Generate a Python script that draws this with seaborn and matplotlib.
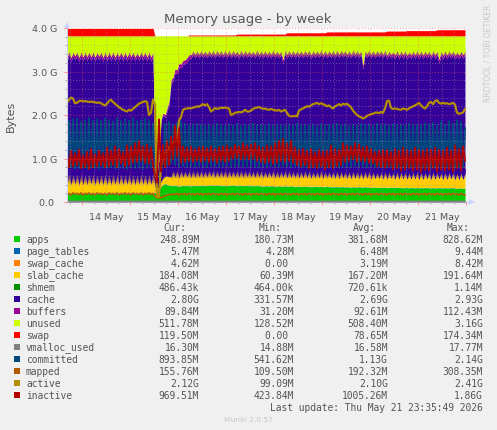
#!/usr/bin/env python
"""Munin style weekly memory usage graph."""

import matplotlib
matplotlib.use("Agg")
import matplotlib.dates as mdates
import matplotlib.pyplot as plt
import numpy as np
import pandas as pd
import seaborn as sns
from matplotlib.colors import to_rgb
from matplotlib.patches import Rectangle
from matplotlib.ticker import FuncFormatter, MultipleLocator

W, H = 497, 431
TEXT = "#555555"
FAINT = "#c8c8c8"

# all series are in hundredths of a GiB, one sample per hour
apps = [
    20,21,20,20,21,20,19,20,20,21, 20,20,21,20,20,20,21,20,19,20,
    20,21,20,21,20,20,21,20,20,21, 20,20,21,20,20,19,20,20,21,20,
    20,21,20,20,22,24,28,36,40,42, 40,38,38,37,38,37,36,37,38,37,
    38,37,37,38,37,38,37,38,38,37, 38,38,39,38,38,39,38,38,37,38,
    37,38,38,39,38,37,38,38,37,38, 38,37,38,37,37,38,37,37,36,37,
    37,36,37,37,36,36,37,36,36,37, 36,36,37,36,35,36,36,35,36,36,
    35,36,35,35,36,35,35,36,35,35, 36,35,35,34,35,35,34,35,35,34,
    35,34,34,35,34,34,35,34,34,35, 34,34,33,34,34,33,34,33,33,34,
    33,33,34,33,33,34,33,33,32,33, 33,32,33,33,32,33,32,33,32,33,
    33,32,32,33,32,32,33,32,32,33, 32,32,33,32,32,31,32,32,31,32,
]
slab_cache = [
    18,45,18,44,19,46,18,45,18,44, 18,46,19,45,18,44,18,45,19,46,
    18,44,18,45,19,45,18,46,18,44, 19,45,18,44,18,45,19,46,18,45,
    18,44,19,45,12,8,6,10,14,16, 18,20,18,35,18,35,18,35,18,35,
    18,35,18,36,18,35,19,34,18,35, 18,36,19,35,18,34,18,35,19,36,
    18,35,18,34,19,35,18,36,18,35, 19,34,18,35,18,36,19,35,18,34,
    18,35,19,36,18,35,18,34,19,35, 18,36,18,35,19,34,18,35,18,36,
    19,35,18,34,18,35,19,36,18,35, 18,34,19,35,18,36,18,35,19,34,
    18,35,18,36,19,35,18,34,18,35, 19,36,18,35,18,34,19,35,18,36,
    18,35,19,34,18,35,18,36,19,35, 18,34,18,35,19,36,18,35,18,34,
    19,35,18,36,18,35,19,34,18,35, 18,36,19,35,18,34,18,35,19,35,
]
cache = [
    285,271,284,272,286,270,285,271,285,272, 286,270,284,271,285,272,286,271,284,270,
    285,272,286,271,284,271,286,270,285,272, 284,271,286,272,285,271,285,270,286,271,
    285,272,284,271,33,33,60,140,145,136, 150,165,215,205,240,222,255,235,260,245,
    266,257,274,265,275,266,274,267,275,266, 274,266,273,267,274,268,275,267,274,266,
    275,268,274,267,274,266,273,268,275,267, 274,267,275,266,275,268,274,267,276,268,
    275,267,274,268,276,267,275,268,262,269, 276,268,275,269,276,268,277,269,276,268,
    277,269,276,270,277,269,277,270,277,270, 276,270,277,271,277,270,278,270,278,271,
    277,270,278,271,278,270,278,271,252,270, 278,271,279,271,278,272,279,271,279,272,
    277,270,277,269,278,270,277,270,278,271, 277,270,278,271,278,270,279,271,278,271,
    278,270,278,271,278,271,266,271,278,271, 278,271,278,271,278,271,278,271,279,271,
]
buffers = [
    9,9,9,9,9,9,9,9,9,9, 9,9,9,9,9,9,9,9,9,9,
    9,9,9,9,9,9,9,9,9,9, 9,9,9,9,9,9,9,9,9,9,
    9,9,9,9,3,3,3,4,5,6, 7,8,9,9,9,9,9,9,9,9,
    9,9,9,9,9,9,9,9,9,9, 9,9,9,9,9,9,9,9,9,9,
    9,9,9,9,9,9,9,9,9,9, 9,9,9,9,9,9,9,9,9,9,
    9,9,9,9,9,9,9,9,9,9, 9,9,9,9,9,9,9,9,9,9,
    9,9,9,9,9,9,9,9,9,9, 9,9,9,9,9,9,9,9,9,9,
    9,9,9,9,9,9,9,9,9,9, 9,9,9,9,9,9,9,9,9,9,
    9,9,9,9,9,9,9,9,9,9, 9,9,9,9,9,9,9,9,9,9,
    9,9,9,9,9,9,9,9,9,9, 9,9,9,9,9,9,9,9,9,9,
]
unused = [
    49,35,50,36,46,36,50,36,49,35, 48,36,48,36,49,36,47,36,50,36,
    49,35,48,35,49,36,47,36,49,35, 49,36,47,36,49,37,48,36,47,36,
    49,35,49,36,311,313,284,191,177,181, 166,150,101,95,76,78,63,65,56,55,
    50,43,43,33,42,33,42,33,41,34, 42,32,41,32,42,31,41,32,42,32,
    42,31,42,32,41,34,43,30,42,32, 41,34,41,34,42,30,42,33,42,33,
    42,34,42,31,42,34,42,34,55,31, 42,32,42,32,42,34,41,33,42,32,
    41,32,43,33,41,33,41,30,42,32, 42,33,41,32,42,31,42,32,40,33,
    42,33,42,30,41,33,41,33,68,32, 41,31,42,32,42,33,40,33,42,30,
    44,34,42,36,43,33,44,33,43,33, 44,36,43,33,43,33,43,33,44,34,
    42,35,44,32,44,34,54,35,44,33, 44,33,42,34,44,36,44,34,43,34,
]
swap = [
    17,17,17,17,17,17,17,17,17,17, 17,17,17,17,17,17,17,17,17,17,
    17,17,17,17,17,17,17,17,17,17, 17,17,17,17,17,17,17,17,17,17,
    17,17,17,17,0,0,0,0,0,0, 0,0,0,0,0,0,0,0,0,0,
    0,2,2,2,2,2,2,2,2,2, 2,2,2,2,2,2,2,2,2,2,
    2,2,2,2,2,4,4,4,4,4, 4,4,4,4,4,4,4,4,4,4,
    4,4,4,4,4,4,4,4,4,4, 7,7,7,7,7,7,7,7,7,7,
    7,7,7,7,7,7,7,7,7,7, 9,9,9,9,9,9,9,9,9,9,
    9,9,9,9,9,9,9,9,9,9, 9,9,9,9,9,9,9,9,9,9,
    11,11,11,11,11,11,11,11,11,11, 12,12,12,12,12,12,12,12,12,12,
    12,12,12,12,12,14,14,14,14,14, 14,14,14,14,14,14,14,14,14,14,
]
# thin series hardly change, so one reading per 20 samples
page_tables = [0.6, 0.6, 0.7, 0.6, 0.6, 0.6, 0.7, 0.6, 0.6, 0.5]
swap_cache = [0.3, 0.3, 0.2, 0.3, 0.3, 0.3, 0.2, 0.3, 0.3, 0.4]
shmem = [0.1, 0.1, 0.1, 0.1, 0.1, 0.1, 0.1, 0.1, 0.1, 0.1]
vmalloc_used = [1.6, 1.6, 1.7, 1.6, 1.7, 1.7, 1.6, 1.6, 1.7, 1.6]

committed = [
    78,186,80,190,76,192,78,185,79,188, 77,193,80,186,78,190,76,187,79,191,
    78,188,80,185,77,192,79,186,78,190, 76,187,80,193,78,186,79,189,77,191,
    78,188,80,180,70,55,60,75,85,180, 85,185,88,178,85,182,80,185,82,180,
    80,176,82,178,80,180,82,178,80,176, 80,178,81,176,82,180,80,177,81,175,
    82,178,80,176,81,179,82,175,80,178, 81,176,82,180,80,177,79,178,81,176,
    80,179,82,176,81,178,80,177,82,175, 81,178,80,176,82,180,81,177,80,178,
    79,176,81,178,82,175,80,179,81,176, 80,178,82,177,81,180,79,176,80,178,
    81,175,80,178,82,176,81,179,80,177, 79,178,81,176,80,180,82,177,81,178,
    80,176,81,179,82,177,80,178,79,176, 81,180,80,177,82,178,81,176,80,181,
    79,178,81,182,80,177,82,185,81,178, 80,186,82,180,79,188,81,184,80,170,
]
mapped = [
    17,20,16,21,18,20,17,21,16,20, 18,21,17,20,16,21,18,20,17,20,
    16,21,18,20,17,21,16,20,18,21, 17,20,16,21,18,20,17,21,16,20,
    18,21,17,20,12,10,9,10,12,14, 15,18,16,19,17,20,16,19,17,20,
    16,20,17,19,16,20,17,20,16,19, 17,20,16,20,17,19,16,20,17,20,
    16,19,17,20,16,20,17,19,16,20, 17,20,16,19,17,20,16,20,17,19,
    16,20,17,20,16,19,17,20,16,20, 17,19,16,20,17,20,16,19,17,20,
    16,20,17,19,16,20,17,20,16,19, 17,20,16,20,17,19,16,20,17,20,
    16,19,17,20,16,20,17,19,16,20, 17,20,16,19,17,20,16,20,17,19,
    16,20,17,20,16,19,17,20,16,20, 17,19,16,20,17,20,16,19,17,20,
    16,20,17,19,16,20,17,20,16,19, 17,20,16,20,17,19,16,20,17,16,
]
active = [
    228,235,240,238,227,228,232,233,231,232, 231,230,231,230,229,228,229,227,224,222,
    226,232,235,230,226,222,218,215,212,210, 208,212,210,214,218,222,226,228,230,232,
    230,200,205,235,225,12,12,85,100,112, 118,124,130,136,140,142,188,195,212,214,
    215,216,215,217,218,220,219,222,225,222, 225,218,208,212,216,214,215,217,216,217,
    216,215,200,202,205,206,207,206,208,212, 208,208,210,214,216,217,218,216,214,215,
    213,212,214,212,211,210,212,208,210,212, 205,198,197,197,198,197,210,213,215,218,
    220,219,222,225,226,228,225,227,225,223, 220,222,218,215,220,222,225,222,226,224,
    226,222,218,210,205,200,197,195,192,194, 198,200,202,203,205,206,204,207,205,215,
    232,233,216,214,215,214,213,212,215,214, 212,215,218,220,222,225,228,222,218,215,
    220,228,230,225,232,234,228,226,228,226, 227,225,226,228,224,205,203,204,206,214,
]
inactive = [
    105,80,118,82,112,85,120,78,108,80, 115,76,122,80,110,82,118,85,112,80,
    125,82,118,85,128,80,122,88,115,82, 130,85,128,90,135,92,140,95,128,90,
    132,88,125,85,60,45,190,70,130,80, 140,85,150,100,175,105,170,90,128,92,
    125,95,128,92,122,95,126,92,128,95, 124,92,128,95,122,90,126,95,128,92,
    130,95,125,100,132,102,128,98,135,100, 130,98,132,100,135,95,128,92,125,90,
    130,92,128,88,135,90,140,95,145,92, 135,95,140,90,125,85,120,82,122,85,
    118,78,122,80,115,78,120,82,116,75, 118,80,130,78,122,82,120,85,135,92,
    130,95,128,98,135,92,132,95,125,92, 128,90,122,88,115,82,118,80,120,78,
    120,82,115,75,122,78,118,72,125,75, 120,78,118,72,125,75,120,70,118,75,
    122,72,120,78,125,70,120,75,118,72, 125,75,118,70,130,78,122,72,128,95,
]

# legend table
names = ["apps", "page_tables", "swap_cache", "slab_cache", "shmem", "cache", "buffers",
         "unused", "swap", "vmalloc_used", "committed", "mapped", "active", "inactive"]
cur = ["248.89M", "5.47M", "4.62M", "184.08M", "486.43k", "2.80G", "89.84M",
       "511.78M", "119.50M", "16.30M", "893.85M", "155.76M", "2.12G", "969.51M"]
low = ["180.73M", "4.28M", "0.00 ", "60.39M", "464.00k", "331.57M", "31.20M",
       "128.52M", "0.00 ", "14.88M", "541.62M", "109.50M", "99.09M", "423.84M"]
avg = ["381.68M", "6.48M", "3.19M", "167.20M", "720.61k", "2.69G", "92.61M",
       "508.40M", "78.65M", "16.58M", "1.13G", "192.32M", "2.10G", "1005.26M"]
high = ["828.62M", "9.44M", "8.42M", "191.64M", "1.14M", "2.93G", "112.43M",
        "3.16G", "174.34M", "17.77M", "2.14G", "308.35M", "2.41G", "1.86G"]
colors = ["#00CC00", "#0066B3", "#FF8000", "#FFCC00", "#008F00", "#330099", "#990099",
          "#CCFF00", "#FF0000", "#808080", "#00487D", "#B35A00", "#B38F00", "#B30000"]
ytick_labels = ["0.0 ", "1.0 G", "2.0 G", "3.0 G", "4.0 G"]


def px_text(fig, x, y, s, **kw):
    kw.setdefault("color", TEXT)
    kw.setdefault("va", "center")
    fig.text(x / W, 1 - y / H, s, **kw)


def fade_band(ax, start, end, y0, y1, color, alpha0, alpha1):
    # the saw teeth blur from one colour into the next, a soft vertical wash gets that look
    rgba = np.zeros((64, 1, 4))
    rgba[..., :3] = to_rgb(color)
    rgba[:, 0, 3] = np.linspace(alpha0, alpha1, 64)
    extent = [mdates.date2num(pd.Timestamp(start)), mdates.date2num(pd.Timestamp(end)), y0, y1]
    ax.imshow(rgba, origin="lower", extent=extent, aspect="auto", interpolation="bilinear", zorder=1.5)


sns.set_theme(style="white", rc={"axes.facecolor": "white", "figure.facecolor": "#f0f0f0"})
fig = plt.figure(figsize=(W / 100, H / 100), dpi=100)
ax = fig.add_axes([67 / W, 1 - 203 / H, 399 / W, 174 / H])

times = pd.date_range("2026-05-13 16:30", periods=len(apps), freq="h")
stack = [apps, np.repeat(page_tables, 20), np.repeat(swap_cache, 20), slab_cache, np.repeat(shmem, 20),
         cache, buffers, unused, swap]
ax.stackplot(times, *[np.asarray(s, dtype=float) / 100 for s in stack], colors=colors[:9], lw=0)

fade_band(ax, "2026-05-13 16:30", "2026-05-22 00:00", 3.34, 3.54, "#CCFF00", 0.0, 0.9)
fade_band(ax, "2026-05-13 16:30", "2026-05-15 12:30", 0.40, 0.66, "#330099", 0.0, 0.95)
fade_band(ax, "2026-05-15 19:00", "2026-05-22 00:00", 0.54, 0.76, "#330099", 0.0, 0.95)

lines = [np.repeat(vmalloc_used, 20), committed, mapped, active, inactive]
widths = [1.0, 1.4, 1.2, 1.6, 1.4]
for values, color, lw in zip(lines, colors[9:], widths):
    sns.lineplot(x=times, y=np.asarray(values, dtype=float) / 100, color=color, lw=lw,
                 estimator=None, legend=False, ax=ax)

ax.set_xlim(pd.Timestamp("2026-05-13 16:30"), pd.Timestamp("2026-05-22 00:00"))
ax.set_ylim(0, 4.0)
ax.set_xlabel("")
ax.set_ylabel("")

ax.xaxis.set_major_locator(mdates.DayLocator())
ax.xaxis.set_major_formatter(FuncFormatter(lambda v, pos: ""))
ax.xaxis.set_minor_locator(mdates.HourLocator(byhour=[0, 6, 12, 18]))


def noon_label(value, pos):
    d = mdates.num2date(value)
    return d.strftime("%d May") if d.hour == 12 else ""


ax.xaxis.set_minor_formatter(FuncFormatter(noon_label))
ax.yaxis.set_major_locator(MultipleLocator(1.0))
ax.yaxis.set_minor_locator(MultipleLocator(0.2))
ax.set_yticks(range(5), ytick_labels)

ax.set_axisbelow(False)
ax.grid(which="major", color="#ff5050", alpha=0.55, lw=0.7, ls=(0, (1, 2)))
ax.grid(which="minor", color="#a0a0a0", alpha=0.55, lw=0.7, ls=(0, (1, 2)))
ax.tick_params(axis="both", which="major", length=2, width=0.7, color="#ff9090", labelsize=6.8, labelcolor=TEXT, pad=5)
ax.tick_params(axis="both", which="minor", length=1.5, width=0.7, color="#b0b0b0", labelsize=6.8, labelcolor=TEXT, pad=5.5)
ax.tick_params(axis="x", which="both", bottom=True, top=False)
ax.tick_params(axis="y", which="both", left=True, right=False)

sns.despine(ax=ax, top=True, right=True)
ax.spines["left"].set_color("#ccd0ec")
ax.spines["bottom"].set_color("#9c9cac")
for spine in ("left", "bottom"):
    ax.spines[spine].set_linewidth(0.8)

# axis arrows, rrdtool draws them past the plot area
arrow = "#ccd5ff"
ax.plot([1.0, 1.012], [0, 0], color=arrow, lw=0.8, transform=ax.transAxes, clip_on=False)
ax.plot([1.014], [0], marker=">", ms=4.5, color=arrow, mew=0, transform=ax.transAxes, clip_on=False)
ax.plot([0], [1.02], marker="^", ms=4.5, color=arrow, mew=0, transform=ax.transAxes, clip_on=False)

px_text(fig, 248, 20, "Memory usage - by week", fontsize=9.5, ha="center")
px_text(fig, 11, 116, "Bytes", fontsize=8, rotation=90, ha="center")
px_text(fig, 488, 53, "RRDTOOL / TOBI OETIKER", fontsize=5.5, rotation=90, ha="center", color=FAINT)

# legend rows are monospace text, like the rrd legend
mono = {"family": "DejaVu Sans Mono", "fontsize": 6.9}
for label, right in zip(["Cur:", "Min:", "Avg:", "Max:"], [186, 282, 376, 470]):
    px_text(fig, right, 228, label, ha="right", **mono)
for row, name in enumerate(names):
    y = 240 + 12 * row
    fig.patches.append(Rectangle((14 / W, 1 - (y + 3) / H), 6 / W, 6 / H, transform=fig.transFigure,
                                 facecolor=colors[row], edgecolor="none"))
    px_text(fig, 26, y, name, ha="left", **mono)
    for column, right in zip([cur, low, avg, high], [199, 294, 388, 483]):
        px_text(fig, right, y, column[row], ha="right", **mono)
px_text(fig, 483, 408, "Last update: Thu May 21 23:35:49 2026", ha="right", **mono)
px_text(fig, 248, 420, "Munin 2.0.57", fontsize=5.4, ha="center", color=FAINT)

fig.savefig("out.png", dpi=100)
